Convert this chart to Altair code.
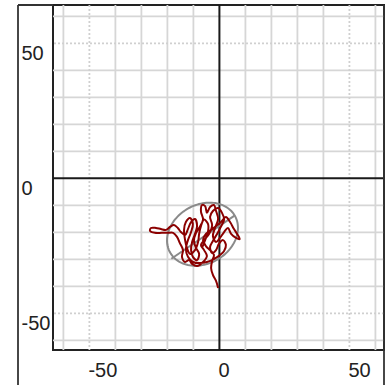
import altair as alt
import pandas as pd
import numpy as np

# Trajectory (data units)
path_x = [-0.5, -1.3, -2.5, -3.2, -2.8, -2.1, -3.6, -5.2, -6.3, -5.2,
          -3.2, -1.3, 0.6, 2.5, 4.1, 5.6, 6.8, 7.8, 6.4, 4.5,
          3.3, 1.8, 0.2, -1.3, -2.5, -1.7, -0.5, -1.3, -2.1, -3.6,
          -4.8, -5.5, -6.7, -7.1, -6.3, -7.5, -9.0, -9.8, -9.0, -7.8,
          -8.6, -10.2, -10.9, -10.5, -9.4, -8.6, -9.4, -10.9, -12.1, -13.2,
          -14.8, -16.0, -17.5, -19.0, -20.5, -22.5, -24.4, -26.3, -26.7, -24.8,
          -22.1, -19.8, -17.8, -16.3, -15.2, -14.0, -14.4, -13.2, -11.7, -10.5,
          -8.6, -6.3, -4.8, -5.9, -7.1, -5.5, -4.0, -2.8, -3.6, -2.5,
          -0.5, 1.0, 1.8, 0.6, -0.9, -2.5, -3.6, -2.8, -1.3, -0.2,
          1.4, 2.5, 1.8,
          0.2, -2.1, -4.8, -7.5, -10.2, -12.1, -12.9, -12.1, -10.9, -10.2,
          -11.3, -12.9, -13.6, -13.2, -12.5, -11.3, -9.4, -8.2, -7.8, -7.1,
          -5.9, -4.4, -4.4, -5.5, -6.7]
path_y = [-40.6, -38.0, -35.8, -33.2, -30.6, -28.4, -26.6, -25.1, -22.9, -20.6,
          -19.1, -17.7, -16.2, -14.3, -16.2, -18.8, -20.6, -22.5, -22.1, -20.6,
          -18.4, -19.9, -22.1, -23.6, -21.4, -18.4, -15.1, -12.1, -9.9, -10.6,
          -12.8, -10.3, -9.9, -12.3, -15.3, -17.9, -20.2, -23.2, -25.8, -28.0,
          -30.3, -29.1, -26.6, -23.6, -20.6, -17.7, -15.1, -16.2, -18.8, -21.0,
          -19.9, -18.4, -17.3, -18.0, -19.1, -18.8, -18.4, -18.4, -19.5, -20.2,
          -20.2, -20.2, -20.2, -21.7, -24.0, -26.6, -29.1, -31.0, -30.3, -31.7,
          -32.5, -31.0, -28.8, -26.6, -24.7, -22.5, -20.6, -17.3, -14.3, -12.1,
          -11.0, -12.8, -15.3, -17.9, -20.6, -23.2, -25.4, -27.7, -26.6, -24.3,
          -22.9, -24.7, -26.9,
          -28.4, -29.9, -31.0, -31.4, -31.0, -29.1, -26.2, -22.9, -19.9, -16.9,
          -14.7, -16.2, -19.1, -22.9, -25.8, -28.0, -26.6, -23.6, -20.6, -17.7,
          -15.3, -16.9, -19.9, -22.9, -25.8]

# Ellipse parameters
ell_cx, ell_cy = -6.5, -20.7
ell_a, ell_b = 14.2, 11.0
ell_angle_deg = 26.0

# Fitted line end points
line_x = [-18.5, 5.8]
line_y = [-29.8, -13.8]

grid_solid = [-60, -40, -30, -20, -10, 10, 20, 30, 40, 60]
grid_dotted = [-50, 50]
zero_lines = [0]
tick_values = [-50, 0, 50]
x_domain = [-64, 63.3]
y_domain = [-63.6, 64.2]

n = min(len(path_x), len(path_y))
traj = pd.DataFrame({"x": path_x[:n], "y": path_y[:n], "i": list(range(n))})

t = np.linspace(0, 2 * np.pi, 121)
th = np.deg2rad(ell_angle_deg)
ex = ell_cx + ell_a * np.cos(t) * np.cos(th) - ell_b * np.sin(t) * np.sin(th)
ey = ell_cy + ell_a * np.cos(t) * np.sin(th) + ell_b * np.sin(t) * np.cos(th)
ell = pd.DataFrame({"x": ex, "y": ey, "i": range(len(t))})
line_df = pd.DataFrame({"x": line_x, "y": line_y, "i": [0, 1]})

xs = alt.Scale(domain=x_domain, nice=False, zero=False)
ys = alt.Scale(domain=y_domain, nice=False, zero=False)

common_axis = dict(grid=False, ticks=False, domain=False, tickSize=0, title=None,
                   labelFontSize=20, labelFont="Liberation Sans", labelColor="#222",
                   labelFlush=False, labelOverlap=False, values=tick_values)
ax_x = alt.Axis(labelAlign="left", labelBaseline="top", labelPadding=10, labelOffset=-1.5,
                labelExpr="'' + datum.value", **common_axis)
ax_y = alt.Axis(labelAlign="left", labelBaseline="top", labelPadding=32,
                labelExpr="(datum.value < 0 ? '' : '\u00a0') + datum.value", **common_axis)


def X(f):
    return alt.X(f, scale=xs, axis=ax_x, title=None)


def Y(f):
    return alt.Y(f, scale=ys, axis=ax_y, title=None)


gx_solid = alt.Chart(pd.DataFrame({"v": grid_solid})).mark_rule(color="#d6d6d6", strokeWidth=1.8).encode(x=X("v:Q"))
gy_solid = alt.Chart(pd.DataFrame({"v": grid_solid})).mark_rule(color="#d6d6d6", strokeWidth=1.8).encode(y=Y("v:Q"))
gx_dot = alt.Chart(pd.DataFrame({"v": grid_dotted})).mark_rule(color="#d0d0d0", strokeWidth=1.8, strokeDash=[2, 2]).encode(x=X("v:Q"))
gy_dot = alt.Chart(pd.DataFrame({"v": grid_dotted})).mark_rule(color="#d0d0d0", strokeWidth=1.8, strokeDash=[2, 2]).encode(y=Y("v:Q"))
zx = alt.Chart(pd.DataFrame({"v": zero_lines})).mark_rule(color="#1a1a1a", strokeWidth=2).encode(x=X("v:Q"))
zy = alt.Chart(pd.DataFrame({"v": zero_lines})).mark_rule(color="#1a1a1a", strokeWidth=2).encode(y=Y("v:Q"))

ellipse = alt.Chart(ell).mark_line(color="#8a8a8a", strokeWidth=2).encode(x=X("x:Q"), y=Y("y:Q"), order="i:Q")
fit_line = alt.Chart(line_df).mark_line(color="#8a8a8a", strokeWidth=2).encode(x=X("x:Q"), y=Y("y:Q"), order="i:Q")
trajectory = alt.Chart(traj).mark_line(color="#8b0000", strokeWidth=2, interpolate="catmull-rom").encode(
    x=X("x:Q"), y=Y("y:Q"), order="i:Q")

frame_left = alt.Chart(pd.DataFrame({"k": [0]})).mark_rule(color="#333", strokeWidth=1.8).encode(
    x=alt.value(-35), y=alt.value(0), y2=alt.value(390))
frame_top = alt.Chart(pd.DataFrame({"k": [0]})).mark_rule(color="#333", strokeWidth=1.8).encode(
    x=alt.value(-35), x2=alt.value(0), y=alt.value(0))
frame_right = alt.Chart(pd.DataFrame({"k": [0]})).mark_rule(color="#333", strokeWidth=1.8).encode(
    x=alt.value(331), y=alt.value(0), y2=alt.value(390))

chart = alt.layer(
    gx_solid, gy_solid, gx_dot, gy_dot, zx, zy, ellipse, fit_line, trajectory,
    frame_left, frame_top, frame_right,
).properties(
    width=331, height=345,
    autosize=alt.AutoSizeParams(type="none"),
    padding={"left": 53, "top": 5, "right": 2, "bottom": 35},
).configure_view(stroke="#222", strokeWidth=2)

chart.save("out.html", embed_options={"renderer": "svg", "actions": False})
